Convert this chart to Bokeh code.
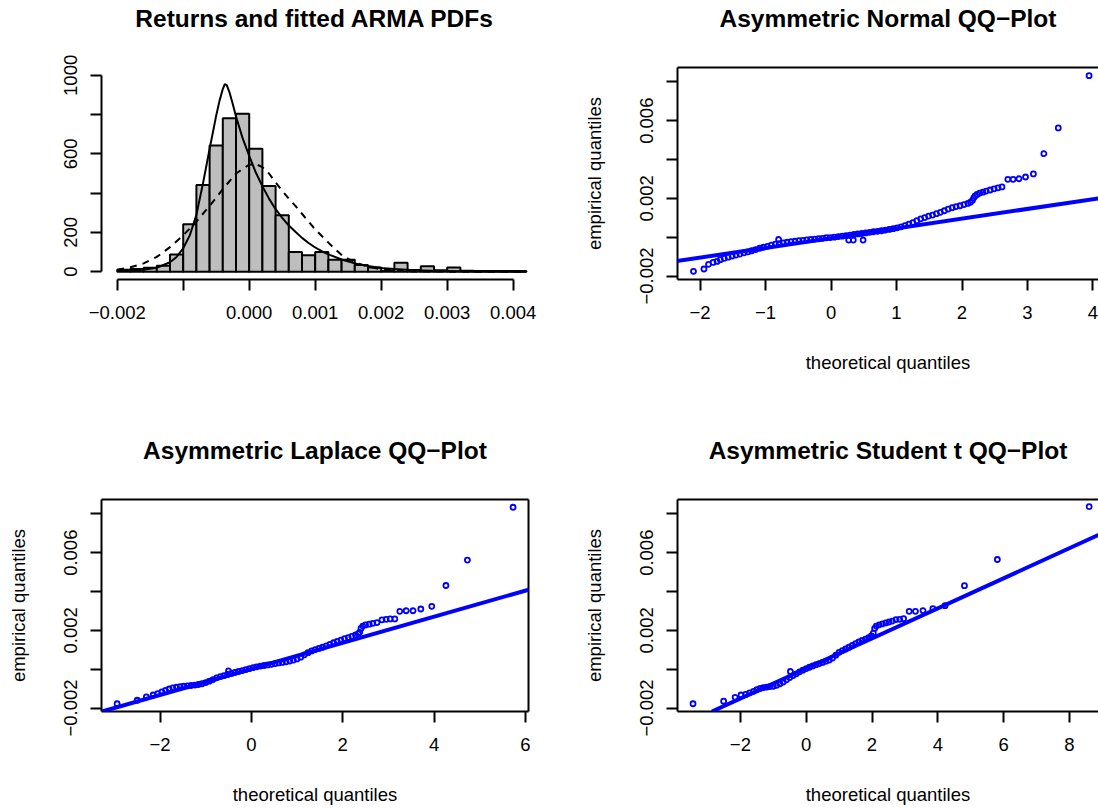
import math
from bokeh.plotting import figure
from bokeh.layouts import column, row
from bokeh.models import Range1d, FixedTicker, LinearAxis, Slope
from bokeh.embed import file_html
from bokeh.resources import INLINE

FONT = "Liberation Sans"

# ---------------- histogram panel data ----------------
hist_edges = [-0.0020, -0.0018, -0.0016, -0.0014, -0.0012, -0.0010, -0.0008, -0.0006,
              -0.0004, -0.0002, 0.0000, 0.0002, 0.0004, 0.0006, 0.0008, 0.0010,
              0.0012, 0.0014, 0.0016, 0.0018, 0.0020, 0.0022, 0.0024, 0.0026,
              0.0028, 0.0030, 0.0032, 0.0034, 0.0036, 0.0038, 0.0040, 0.0042]
hist_density = [10, 14, 20, 30, 87, 242, 441, 643, 781, 805, 626, 436, 287, 100, 83,
                100, 60, 60, 34, 21, 3, 45, 8, 28, 7, 21, 5, 3, 3, 3, 3]

pdf_solid_x = [-0.0020, -0.0018, -0.0016, -0.0014, -0.0012, -0.0011, -0.0010, -0.0009,
               -0.0008, -0.0007, -0.0006, -0.0005, -0.00045, -0.0004, -0.00037, -0.00034,
               -0.0003, -0.00025, -0.0002, -0.0001, 0.0000, 0.0001, 0.0002, 0.0003,
               0.0004, 0.0005, 0.0006, 0.0007, 0.0008, 0.0009, 0.0010, 0.0011, 0.0012,
               0.0014, 0.0016, 0.0018, 0.0020, 0.0022, 0.0025, 0.0028, 0.0032, 0.0036, 0.0042]
pdf_solid_y = [3, 6, 10, 20, 48, 75, 119, 185, 290, 450, 625, 795, 870, 930, 955, 950,
               915, 855, 790, 680, 590, 505, 435, 372, 318, 274, 235, 203, 172, 146,
               123, 104, 88, 62, 42, 29, 19, 13, 7, 4, 2, 1, 0]

pdf_dashed_x = [-0.0020, -0.0018, -0.0016, -0.0014, -0.0012, -0.0010, -0.0008, -0.0006,
                -0.0004, -0.0002, 0.0000, 0.0001, 0.0002, 0.0003, 0.0004, 0.0005, 0.0006,
                0.0007, 0.0008, 0.0009, 0.0010, 0.0011, 0.0012, 0.0013, 0.0014, 0.0015,
                0.0016, 0.0018, 0.0020, 0.0022, 0.0025, 0.0030, 0.0042]
pdf_dashed_y = [10, 22, 42, 75, 125, 185, 255, 335, 420, 500, 545, 548, 532, 500, 455,
                412, 372, 335, 295, 255, 215, 182, 148, 115, 85, 65, 48, 25, 12, 5, 1, 0, 0]

hist_xticks = [-0.002, -0.001, 0.0, 0.001, 0.002, 0.003, 0.004]
hist_xlabels = ["\u22120.002", "", "0.000", "0.001", "0.002", "0.003", "0.004"]
hist_yticks = [0, 200, 400, 600, 800, 1000]
hist_ylabels = ["0", "200", "", "600", "", "1000"]

# ---------------- QQ panels data ----------------
qq_yticks = [-0.002, 0.0, 0.002, 0.004, 0.006, 0.008]
qq_ylabels = ["\u22120.002", "", "0.002", "", "0.006", ""]

normal_xticks = [-2, -1, 0, 1, 2, 3, 4]
normal_xlabels = ["\u22122", "\u22121", "0", "1", "2", "3", "4"]
laplace_xticks = [-2, 0, 2, 4, 6]
laplace_xlabels = ["\u22122", "0", "2", "4", "6"]
student_xticks = [-2, 0, 2, 4, 6, 8]
student_xlabels = ["\u22122", "0", "2", "4", "6", "8"]

normal_x = [-2.10, -1.94, -1.87, -1.80, -1.74, -1.69, -1.63, -1.57, -1.51, -1.45, -1.39,
            -1.33, -1.27, -1.21, -1.15, -1.09, -1.03, -0.97, -0.91, -0.85, -0.79, -0.73,
            -0.67, -0.61, -0.55, -0.49, -0.43, -0.37, -0.31, -0.25, -0.19, -0.13, -0.07,
            -0.01, 0.05, 0.11, 0.17, 0.23, 0.29, 0.35, 0.41, 0.47, 0.53, 0.59, 0.65, 0.71,
            0.77, 0.83, 0.89, 0.95, 1.01, 1.07, 1.13, 1.19, 1.25, 1.31, 1.37, 1.43, 1.49,
            1.55, 1.61, 1.67, 1.73, 1.79, 1.85, 1.91, 1.97, 2.03, 2.09, 2.13, 2.16, 2.18,
            2.20, 2.23, 2.27, 2.32, 2.37, 2.43, 2.49, 2.55, 2.61, 2.70, 2.78, 2.87, 2.97,
            3.09, 3.25, 3.47, 3.94, -0.80, 0.27, 0.34, 0.49]
normal_y = [-0.00176, -0.00164, -0.00140, -0.00130, -0.00125, -0.00116, -0.00109, -0.00103,
            -0.00097, -0.00092, -0.00087, -0.00081, -0.00076, -0.00070, -0.00064, -0.00057,
            -0.00052, -0.00047, -0.00041, -0.00036, -0.00033, -0.00029, -0.00026, -0.00023,
            -0.00021, -0.00018, -0.00016, -0.00014, -0.00012, -0.00010, -0.00008, -0.00006,
            -0.00003, -0.00002, 0.00000, 0.00003, 0.00005, 0.00008, 0.00011, 0.00014,
            0.00017, 0.00019, 0.00022, 0.00025, 0.00028, 0.00030, 0.00033, 0.00036, 0.00040,
            0.00044, 0.00048, 0.00053, 0.00060, 0.00067, 0.00075, 0.00085, 0.00094, 0.00101,
            0.00108, 0.00114, 0.00121, 0.00128, 0.00136, 0.00145, 0.00152, 0.00157, 0.00162,
            0.00168, 0.00174, 0.00180, 0.00190, 0.00202, 0.00212, 0.00220, 0.00227, 0.00232,
            0.00237, 0.00243, 0.00249, 0.00254, 0.00259, 0.00298, 0.00298, 0.00301, 0.00310,
            0.00326, 0.00430, 0.00563, 0.00832, -0.00012, -0.00015, -0.00015, -0.00015]
normal_line = (-0.00005, 0.000502)   # intercept, slope

laplace_x = [-2.94, -2.50, -2.30, -2.15, -2.05, -1.96, -1.88, -1.80, -1.72, -1.64, -1.56,
             -1.48, -1.40, -1.32, -1.24, -1.16, -1.08, -1.00, -0.92, -0.84, -0.76, -0.68,
             -0.60, -0.52, -0.44, -0.36, -0.28, -0.20, -0.12, -0.04, 0.04, 0.12, 0.20, 0.28,
             0.36, 0.44, 0.52, 0.60, 0.68, 0.76, 0.84, 0.92, 1.00, 1.08, 1.16, 1.24, 1.32,
             1.40, 1.48, 1.56, 1.64, 1.72, 1.80, 1.88, 1.96, 2.04, 2.12, 2.20, 2.28, 2.34,
             2.37, 2.40, 2.44, 2.50, 2.58, 2.66, 2.75, 2.86, 2.95, 3.04, 3.14, 3.25, 3.39,
             3.54, 3.71, 3.95, 4.26, 4.73, 5.73, -0.50]
laplace_y = [-0.00178, -0.00160, -0.00143, -0.00133, -0.00126, -0.00117, -0.00109, -0.00102,
             -0.00096, -0.00093, -0.00090, -0.00088, -0.00086, -0.00084, -0.00082, -0.00079,
             -0.00075, -0.00069, -0.00062, -0.00054, -0.00045, -0.00038, -0.00033, -0.00027,
             -0.00022, -0.00017, -0.00012, -0.00007, -0.00002, 0.00003, 0.00008, 0.00012,
             0.00016, 0.00019, 0.00022, 0.00025, 0.00029, 0.00032, 0.00035, 0.00038, 0.00042,
             0.00047, 0.00053, 0.00062, 0.00074, 0.00085, 0.00094, 0.00101, 0.00107, 0.00113,
             0.00120, 0.00128, 0.00136, 0.00143, 0.00150, 0.00157, 0.00163, 0.00169, 0.00176,
             0.00182, 0.00190, 0.00210, 0.00222, 0.00228, 0.00232, 0.00236, 0.00240, 0.00254,
             0.00257, 0.00259, 0.00259, 0.00298, 0.00301, 0.00301, 0.00310, 0.00324, 0.00431,
             0.00562, 0.00834, -0.00009]
laplace_line = (0.0000155, 0.000672)

student_x = [-3.44, -2.51, -2.16, -1.98, -1.84, -1.72, -1.60, -1.50, -1.40, -1.30, -1.20,
             -1.10, -1.00, -0.90, -0.80, -0.70, -0.60, -0.50, -0.40, -0.30, -0.20, -0.10,
             0.00, 0.10, 0.20, 0.30, 0.40, 0.50, 0.60, 0.70, 0.80, 0.90, 1.00, 1.10, 1.20,
             1.30, 1.40, 1.50, 1.60, 1.70, 1.80, 1.90, 1.98, 2.04, 2.08, 2.13, 2.22, 2.32,
             2.42, 2.52, 2.62, 2.73, 2.84, 2.96, 3.13, 3.32, 3.55, 3.85, 4.22, 4.81, 5.81,
             8.60, -0.48]
student_y = [-0.00178, -0.00165, -0.00145, -0.00133, -0.00130, -0.00122, -0.00114, -0.00106,
             -0.00099, -0.00095, -0.00092, -0.00090, -0.00088, -0.00083, -0.00075, -0.00066,
             -0.00055, -0.00043, -0.00033, -0.00024, -0.00014, -0.00005, 0.00003, 0.00010,
             0.00017, 0.00023, 0.00029, 0.00035, 0.00041, 0.00047, 0.00057, 0.00072, 0.00087,
             0.00096, 0.00104, 0.00113, 0.00123, 0.00132, 0.00140, 0.00148, 0.00155, 0.00162,
             0.00172, 0.00186, 0.00210, 0.00222, 0.00228, 0.00233, 0.00238, 0.00243, 0.00248,
             0.00255, 0.00257, 0.00260, 0.00298, 0.00298, 0.00302, 0.00312, 0.00327, 0.00430,
             0.00565, 0.00837, -0.00012]
student_line = (0.000039, 0.000774)

# ---------------- helpers ----------------
TICK_FS = "18.5px"


def style_axis(ax, ticks, labels, vertical=False):
    ax.ticker = FixedTicker(ticks=ticks, minor_ticks=[])
    ax.major_label_overrides = dict(zip(ticks, labels))
    ax.major_label_text_font = FONT
    ax.major_label_text_font_size = TICK_FS
    ax.major_label_text_color = "black"
    ax.axis_line_color = "black"
    ax.axis_line_width = 2
    ax.major_tick_line_color = "black"
    ax.major_tick_line_width = 2
    ax.major_tick_out = 11
    ax.major_tick_in = 0
    ax.minor_tick_out = 0
    ax.minor_tick_in = 0
    ax.axis_label_text_font = FONT
    ax.axis_label_text_font_size = TICK_FS
    ax.axis_label_text_font_style = "normal"
    ax.axis_label_text_color = "black"
    if vertical:
        ax.major_label_orientation = "parallel"
        ax.major_label_standoff = 13
        ax.axis_label_standoff = 33
    else:
        ax.major_label_standoff = 15
        ax.axis_label_standoff = 30


def top_axis(p, title, show_line):
    # the top edge of the box; its axis label carries the panel title
    ax = LinearAxis(ticker=FixedTicker(ticks=[], minor_ticks=[]))
    ax.axis_line_color = "black" if show_line else None
    ax.axis_line_width = 2
    ax.major_tick_out = 0
    ax.major_tick_in = 0
    ax.minor_tick_out = 0
    ax.minor_tick_in = 0
    ax.major_label_standoff = 0
    ax.major_label_text_font_size = "0px"
    ax.axis_label = title
    ax.axis_label_text_font = FONT
    ax.axis_label_text_font_size = "24.5px"
    ax.axis_label_text_font_style = "bold"
    ax.axis_label_text_color = "black"
    ax.axis_label_standoff = 36
    p.add_layout(ax, "above")


def right_axis(p):
    ax = LinearAxis(ticker=FixedTicker(ticks=[], minor_ticks=[]))
    ax.axis_line_color = "black"
    ax.axis_line_width = 2
    ax.major_tick_out = 0
    ax.major_tick_in = 0
    ax.minor_tick_out = 0
    ax.minor_tick_in = 0
    ax.major_label_standoff = 0
    ax.major_label_text_font_size = "0px"
    p.add_layout(ax, "right")


def make_fig(xr, yr, bl, br, bt, bb):
    p = figure(width=549, height=404, x_range=Range1d(*xr), y_range=Range1d(*yr),
               output_backend="svg", toolbar_location=None,
               min_border_left=bl, min_border_right=br,
               min_border_top=bt, min_border_bottom=bb)
    p.xgrid.visible = False
    p.ygrid.visible = False
    p.outline_line_color = None
    p.background_fill_color = "white"
    p.border_fill_color = "white"
    return p


# ---------------- histogram ----------------
p1 = make_fig((-0.002238, 0.004232), (-40, 1040), 101, 21, 67, 125)
p1.quad(left=hist_edges[:-1], right=hist_edges[1:], bottom=0, top=hist_density,
        fill_color="#BEBEBE", line_color="black", line_width=2)
p1.line(pdf_solid_x, pdf_solid_y, line_color="black", line_width=2)
p1.line(pdf_dashed_x, pdf_dashed_y, line_color="black", line_width=2, line_dash="7 6")
style_axis(p1.xaxis[0], hist_xticks, hist_xlabels)
style_axis(p1.yaxis[0], hist_yticks, hist_ylabels, vertical=True)
p1.xaxis[0].bounds = (hist_xticks[0], hist_xticks[-1])
p1.yaxis[0].bounds = (hist_yticks[0], hist_yticks[-1])
top_axis(p1, "Returns and fitted ARMA PDFs", False)

QQ_YR = (-0.00218, 0.00874)


def qq_panel(title, xs, ys, line, xticks, xlabels, xr, bl, br, bt, bb, right_box):
    p = make_fig(xr, QQ_YR, bl, br, bt, bb)
    p.add_layout(Slope(gradient=line[1], y_intercept=line[0], line_color="blue",
                       line_width=4))
    p.scatter(xs, ys, marker="circle", size=5, fill_color=None, line_color="blue",
              line_width=1.8)
    style_axis(p.xaxis[0], xticks, xlabels)
    style_axis(p.yaxis[0], qq_yticks, qq_ylabels, vertical=True)
    p.xaxis[0].axis_label = "theoretical quantiles"
    p.yaxis[0].axis_label = "empirical quantiles"
    top_axis(p, title, True)
    if right_box:
        right_axis(p)
    return p


p2 = qq_panel("Asymmetric Normal QQ\u2212Plot", normal_x, normal_y, normal_line,
              normal_xticks, normal_xlabels, (-2.344, 4.084), 128, 0, 67, 125, False)
p3 = qq_panel("Asymmetric Laplace QQ\u2212Plot", laplace_x, laplace_y, laplace_line,
              laplace_xticks, laplace_xlabels, (-3.282, 6.068), 101, 21, 95, 97, True)
p4 = qq_panel("Asymmetric Student t QQ\u2212Plot", student_x, student_y, student_line,
              student_xticks, student_xlabels, (-3.912, 8.884), 128, 0, 95, 97, False)

layout = column(row(p1, p2), row(p3, p4))

open("out.html", "w").write(file_html(layout, INLINE))
